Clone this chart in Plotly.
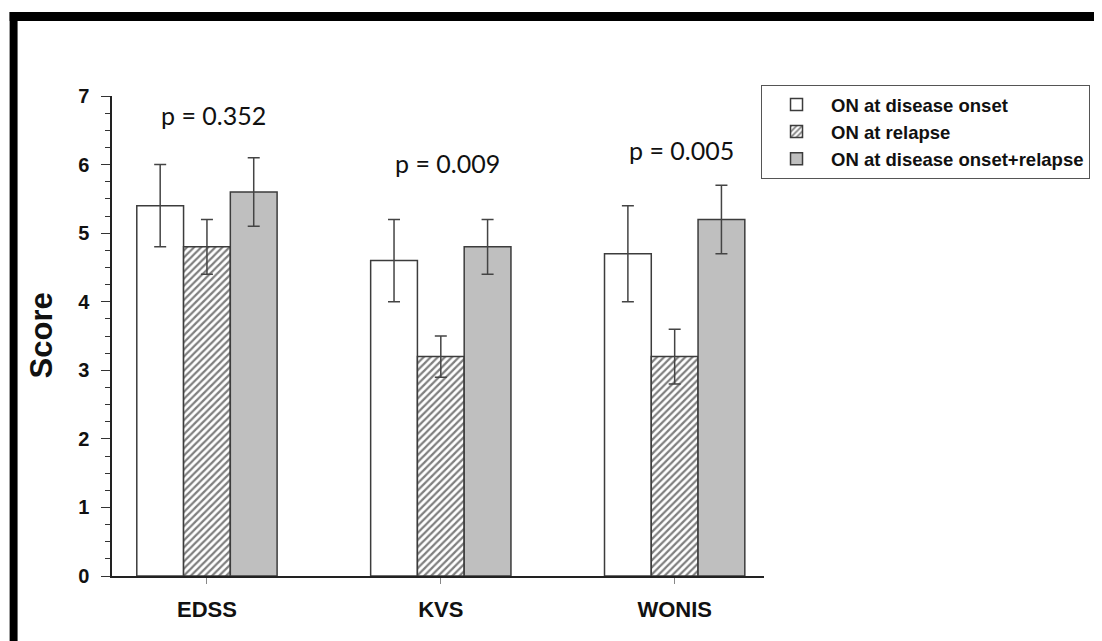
import plotly.graph_objects as go

categories = ["EDSS", "KVS", "WONIS"]
series_names = ["ON at disease onset", "ON at relapse", "ON at disease onset+relapse"]
onset_vals = [5.4, 4.6, 4.7]
onset_err = [0.6, 0.6, 0.7]
relapse_vals = [4.8, 3.2, 3.2]
relapse_err = [0.4, 0.3, 0.4]
both_vals = [5.6, 4.8, 5.2]
both_err = [0.5, 0.4, 0.5]
p_labels = ["p = 0.352", "p = 0.009", "p = 0.005"]
p_y = [6.72, 6.02, 6.21]
y_ticks = [0, 1, 2, 3, 4, 5, 6, 7]

OFF = 8  # page body margin
W, H = 1102 - OFF, 641 - OFF
L, T = 112 - OFF, 96 - OFF
R = W - (768 - OFF)
B = H - (576 - OFF)
PW, PH = W - L - R, H - T - B

def px(x):
    return (x - OFF - L) / PW

def py(y):
    return (H - B - (y - OFF)) / PH

edge = "#3c3c3c"
err = dict(type="data", thickness=1.5, width=6, color="#444444")

fig = go.Figure()
fig.add_trace(go.Bar(
    x=categories, y=onset_vals, name=series_names[0],
    marker=dict(color="white", line=dict(color=edge, width=1.5)),
    error_y=dict(array=onset_err, **err),
))
fig.add_trace(go.Bar(
    x=categories, y=relapse_vals, name=series_names[1],
    marker=dict(color="white", line=dict(color=edge, width=1.5),
                pattern=dict(shape="/", fgcolor="#000000", bgcolor="white",
                             size=5, solidity=0.45)),
    error_y=dict(array=relapse_err, **err),
))
fig.add_trace(go.Bar(
    x=categories, y=both_vals, name=series_names[2],
    marker=dict(color="#bfbfbf", line=dict(color=edge, width=1.5)),
    error_y=dict(array=both_err, **err),
))

for c, t, yv in zip(categories, p_labels, p_y):
    fig.add_annotation(x=c, y=yv, text=t, showarrow=False, xshift=7,
                       font=dict(family="Lato", size=25, color="#111111"),
                       xref="x", yref="y")

fig.add_annotation(x=px(41), y=py(335), xref="paper", yref="paper", text="Score",
                   textangle=-90, showarrow=False, xanchor="center", yanchor="middle",
                   font=dict(family="Liberation Sans", size=31, color="#111111", weight="bold"))

# outer frame bands
fig.add_shape(type="rect", xref="paper", yref="paper",
              x0=px(9), x1=px(1110), y0=py(21), y1=py(12),
              fillcolor="black", line=dict(width=0), layer="above")
fig.add_shape(type="rect", xref="paper", yref="paper",
              x0=px(9), x1=px(17), y0=py(660), y1=py(12),
              fillcolor="black", line=dict(width=0), layer="above")

fig.update_layout(
    width=W, height=H,
    margin=dict(l=L, r=R, t=T, b=B),
    paper_bgcolor="white", plot_bgcolor="white",
    barmode="group", bargap=0.4, bargroupgap=0,
    showlegend=True,
    legend=dict(x=px(765), y=py(85), xanchor="left", yanchor="top",
                bordercolor="#555555", borderwidth=1, bgcolor="white",
                itemwidth=59,
                font=dict(family="Liberation Sans", size=18.5, color="#111111", weight="bold"),
                tracegroupgap=0),
    xaxis=dict(range=[-0.406, 2.382], showline=True, linecolor="#222222", linewidth=1.5,
               ticks="outside", ticklen=6, tickcolor="#888888", tickwidth=1,
               ticklabelstandoff=7,
               tickfont=dict(family="Liberation Sans", size=22, color="#111111", weight="bold"),
               showgrid=False, zeroline=False),
    yaxis=dict(range=[0, 7], tickvals=y_ticks, showline=True, linecolor="#222222", linewidth=1.5,
               ticks="outside", ticklen=9, tickcolor="#333333", tickwidth=1.2,
               minor=dict(dtick=0.25, ticks="outside", ticklen=5, tickcolor="#333333", tickwidth=1),
               ticklabelstandoff=8,
               tickfont=dict(family="Liberation Sans", size=20, color="#111111", weight="bold"),
               showgrid=False, zeroline=False),
)

fig.write_html("out.html")
